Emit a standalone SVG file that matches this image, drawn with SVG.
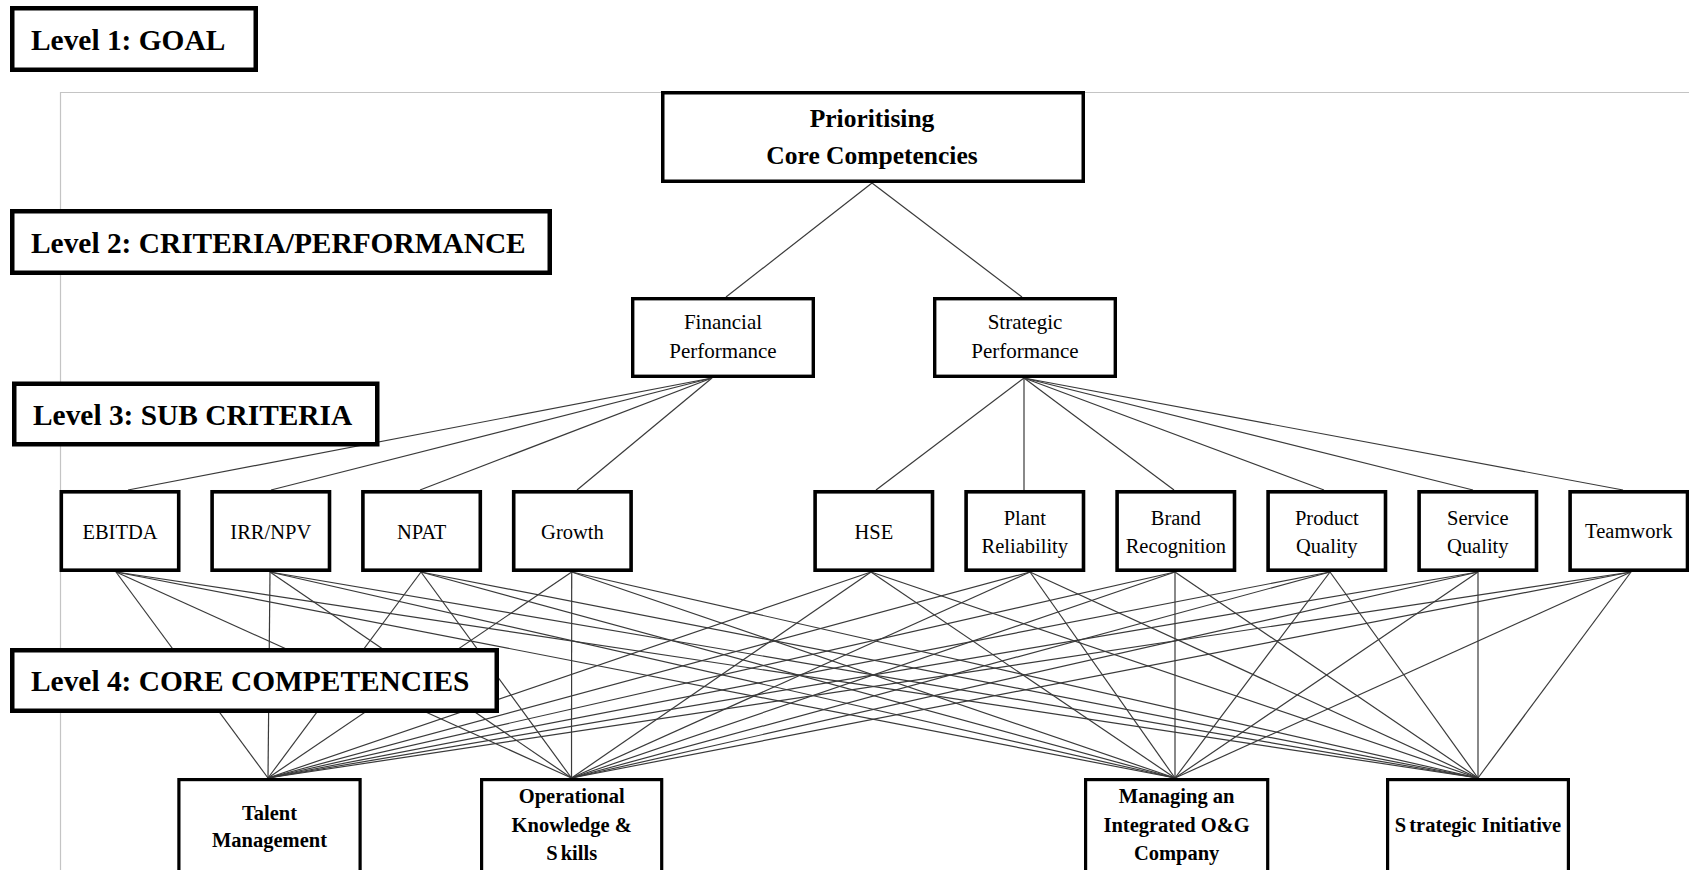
<svg xmlns="http://www.w3.org/2000/svg" width="1689" height="870" viewBox="0 0 1689 870">
  <style>
    .frame { stroke: #c4c4c4; stroke-width: 1.2; fill: none; }
    .conn line { stroke: #3a3a3a; stroke-width: 1.2; }
    .lvl rect { fill: #fff; stroke: #000; stroke-width: 4.5; }
    .lvl text { font-family: "Liberation Serif", "Times New Roman", serif; font-weight: bold; font-size: 29.4px; fill: #000; }
    .node rect { fill: #fff; stroke: #000; }
    .goal rect { stroke-width: 3.5; }
    .crit rect { stroke-width: 3.4; }
    .sub rect { stroke-width: 3.6; }
    .core rect { stroke-width: 3.2; }
    .node text { font-family: "Liberation Serif", "Times New Roman", serif; fill: #000; text-anchor: middle; }
    .goal text { font-weight: bold; font-size: 25.5px; }
    .crit text { font-size: 21px; }
    .sub text { font-size: 20.5px; }
    .core text { font-weight: bold; font-size: 20.5px; }
  </style>

  <rect width="1689" height="870" fill="#fff"/>

  <!-- page frame -->
  <path class="frame" d="M60.5 870 V92.5 H1689"/>

  <!-- connectors -->
  <g id="connectors" class="conn">
    <!-- goal to criteria -->
    <line x1="872" y1="183" x2="726" y2="297"/>
    <line x1="872" y1="183" x2="1022" y2="297"/>
    <!-- financial performance to sub criteria -->
    <line x1="712" y1="378" x2="128" y2="490"/>
    <line x1="712" y1="378" x2="271" y2="490"/>
    <line x1="712" y1="378" x2="420" y2="490"/>
    <line x1="712" y1="378" x2="577" y2="490"/>
    <!-- strategic performance to sub criteria -->
    <line x1="1024" y1="378" x2="876" y2="490"/>
    <line x1="1024" y1="378" x2="1024" y2="490"/>
    <line x1="1024" y1="378" x2="1174" y2="490"/>
    <line x1="1024" y1="378" x2="1324" y2="490"/>
    <line x1="1024" y1="378" x2="1473" y2="490"/>
    <line x1="1024" y1="378" x2="1623" y2="490"/>
    <!-- sub criteria to core competencies -->
    <line x1="116" y1="572" x2="268" y2="778"/>
    <line x1="116" y1="572" x2="571.5" y2="778"/>
    <line x1="116" y1="572" x2="1175" y2="778"/>
    <line x1="116" y1="572" x2="1478" y2="778"/>
    <line x1="270" y1="572" x2="268" y2="778"/>
    <line x1="270" y1="572" x2="571.5" y2="778"/>
    <line x1="270" y1="572" x2="1175" y2="778"/>
    <line x1="270" y1="572" x2="1478" y2="778"/>
    <line x1="421" y1="572" x2="268" y2="778"/>
    <line x1="421" y1="572" x2="571.5" y2="778"/>
    <line x1="421" y1="572" x2="1175" y2="778"/>
    <line x1="421" y1="572" x2="1478" y2="778"/>
    <line x1="571.7" y1="572" x2="268" y2="778"/>
    <line x1="571.7" y1="572" x2="571.5" y2="778"/>
    <line x1="571.7" y1="572" x2="1175" y2="778"/>
    <line x1="571.7" y1="572" x2="1478" y2="778"/>
    <line x1="871" y1="572" x2="268" y2="778"/>
    <line x1="871" y1="572" x2="571.5" y2="778"/>
    <line x1="871" y1="572" x2="1175" y2="778"/>
    <line x1="871" y1="572" x2="1478" y2="778"/>
    <line x1="1030" y1="572" x2="268" y2="778"/>
    <line x1="1030" y1="572" x2="571.5" y2="778"/>
    <line x1="1030" y1="572" x2="1175" y2="778"/>
    <line x1="1030" y1="572" x2="1478" y2="778"/>
    <line x1="1175" y1="572" x2="268" y2="778"/>
    <line x1="1175" y1="572" x2="571.5" y2="778"/>
    <line x1="1175" y1="572" x2="1175" y2="778"/>
    <line x1="1175" y1="572" x2="1478" y2="778"/>
    <line x1="1330" y1="572" x2="268" y2="778"/>
    <line x1="1330" y1="572" x2="571.5" y2="778"/>
    <line x1="1330" y1="572" x2="1175" y2="778"/>
    <line x1="1330" y1="572" x2="1478" y2="778"/>
    <line x1="1478" y1="572" x2="268" y2="778"/>
    <line x1="1478" y1="572" x2="571.5" y2="778"/>
    <line x1="1478" y1="572" x2="1175" y2="778"/>
    <line x1="1478" y1="572" x2="1478" y2="778"/>
    <line x1="1631" y1="572" x2="268" y2="778"/>
    <line x1="1631" y1="572" x2="571.5" y2="778"/>
    <line x1="1631" y1="572" x2="1175" y2="778"/>
    <line x1="1631" y1="572" x2="1478" y2="778"/>
  </g>

  <!-- level 1: goal -->
  <g id="goal" class="node goal">
    <rect x="662.75" y="92.75" width="420.5" height="88.5"/>
    <text x="872" y="127">Prioritising</text>
    <text x="872" y="164">Core Competencies</text>
  </g>

  <!-- level 2: criteria -->
  <g id="financial-performance" class="node crit">
    <rect x="632.7" y="298.7" width="180.6" height="77.6"/>
    <text x="723" y="329">Financial</text>
    <text x="723" y="358">Performance</text>
  </g>
  <g id="strategic-performance" class="node crit">
    <rect x="934.7" y="298.7" width="180.6" height="77.6"/>
    <text x="1025" y="329">Strategic</text>
    <text x="1025" y="358">Performance</text>
  </g>

  <!-- level 3: sub criteria -->
  <g id="ebitda" class="node sub">
    <rect x="61.3" y="491.8" width="117.4" height="78.4"/>
    <text x="120" y="539">EBITDA</text>
  </g>
  <g id="irr-npv" class="node sub">
    <rect x="212.1" y="491.8" width="117.4" height="78.4"/>
    <text x="270.8" y="539">IRR/NPV</text>
  </g>
  <g id="npat" class="node sub">
    <rect x="362.9" y="491.8" width="117.4" height="78.4"/>
    <text x="421.6" y="539">NPAT</text>
  </g>
  <g id="growth" class="node sub">
    <rect x="513.7" y="491.8" width="117.4" height="78.4"/>
    <text x="572.4" y="539">Growth</text>
  </g>
  <g id="hse" class="node sub">
    <rect x="815.1" y="491.8" width="117.4" height="78.4"/>
    <text x="873.8" y="539">HSE</text>
  </g>
  <g id="plant-reliability" class="node sub">
    <rect x="966.1" y="491.8" width="117.4" height="78.4"/>
    <text x="1024.8" y="525">Plant</text>
    <text x="1024.8" y="553">Reliability</text>
  </g>
  <g id="brand-recognition" class="node sub">
    <rect x="1117.1" y="491.8" width="117.4" height="78.4"/>
    <text x="1175.8" y="525">Brand</text>
    <text x="1175.8" y="553">Recognition</text>
  </g>
  <g id="product-quality" class="node sub">
    <rect x="1268.1" y="491.8" width="117.4" height="78.4"/>
    <text x="1326.8" y="525">Product</text>
    <text x="1326.8" y="553">Quality</text>
  </g>
  <g id="service-quality" class="node sub">
    <rect x="1419.1" y="491.8" width="117.4" height="78.4"/>
    <text x="1477.8" y="525">Service</text>
    <text x="1477.8" y="553">Quality</text>
  </g>
  <g id="teamwork" class="node sub">
    <rect x="1570.1" y="491.8" width="117.4" height="78.4"/>
    <text x="1628.8" y="538">Teamwork</text>
  </g>

  <!-- level 4: core competencies -->
  <g id="talent-management" class="node core">
    <rect x="178.9" y="779.6" width="181.2" height="100"/>
    <text x="269.5" y="820">Talent</text>
    <text x="269.5" y="847">Management</text>
  </g>
  <g id="operational-knowledge" class="node core">
    <rect x="481.6" y="779.6" width="180.1" height="100"/>
    <text x="571.7" y="803">Operational</text>
    <text x="571.7" y="831.5">Knowledge &amp;</text>
    <text x="571.7" y="860">S<tspan dx="3">kills</tspan></text>
  </g>
  <g id="integrated-og" class="node core">
    <rect x="1085.6" y="779.6" width="182.1" height="100"/>
    <text x="1176.6" y="803">Managing an</text>
    <text x="1176.6" y="831.5">Integrated O&amp;G</text>
    <text x="1176.6" y="860">Company</text>
  </g>
  <g id="strategic-initiative" class="node core">
    <rect x="1387.6" y="779.6" width="180.8" height="100"/>
    <text x="1478" y="831.5">S<tspan dx="3">trategic Initiative</tspan></text>
  </g>

  <!-- level labels -->
  <g id="level-1" class="lvl">
    <rect x="12.25" y="8.25" width="243.5" height="61.5"/>
    <text x="31" y="50">Level 1: GOAL</text>
  </g>
  <g id="level-2" class="lvl">
    <rect x="12.25" y="211.25" width="537.5" height="61.5"/>
    <text x="31" y="252.5">Level 2: CRITERIA/PERFORMANCE</text>
  </g>
  <g id="level-3" class="lvl">
    <rect x="14.25" y="383.75" width="363" height="60.5"/>
    <text x="33" y="425">Level 3: SUB CRITERIA</text>
  </g>
  <g id="level-4" class="lvl">
    <rect x="12.25" y="650.25" width="484.5" height="60.5"/>
    <text x="31" y="691">Level 4: CORE COMPETENCIES</text>
  </g>
</svg>
